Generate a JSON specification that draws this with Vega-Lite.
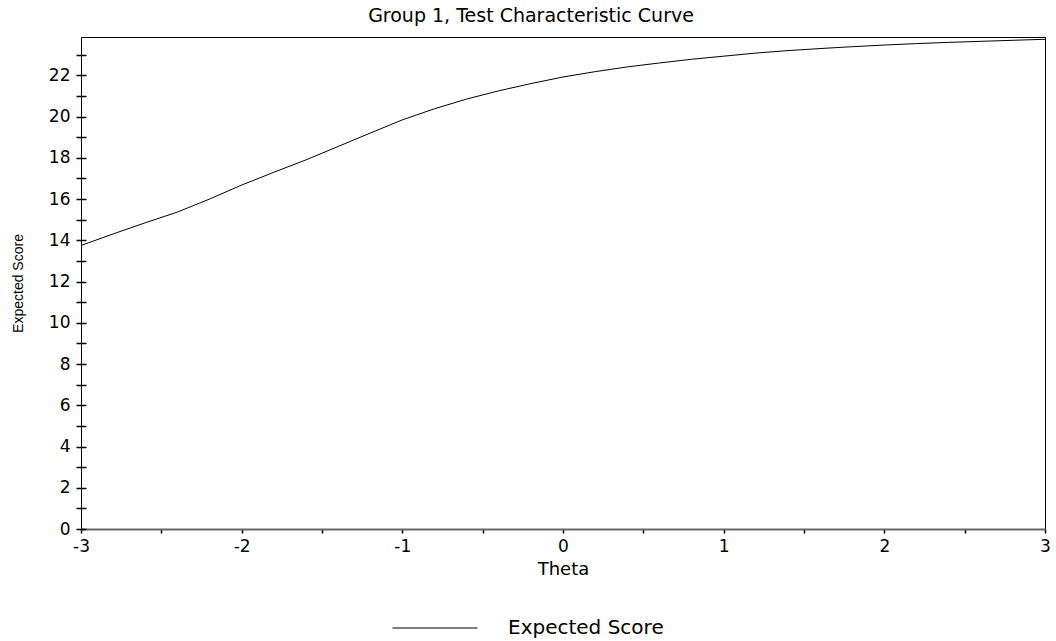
{
  "$schema": "https://vega.github.io/schema/vega-lite/v6.json",
  "autosize": {"type": "none"},
  "width": 964,
  "height": 492,
  "padding": {"left": 81, "top": 37, "right": 11, "bottom": 112},
  "background": "white",
  "title": {
    "text": "Group 1, Test Characteristic Curve",
    "font": "DejaVu Sans",
    "fontSize": 19,
    "fontWeight": "normal",
    "color": "#000",
    "anchor": "middle",
    "frame": "group",
    "dx": -32,
    "offset": 11
  },
  "config": {
    "view": {"stroke": "#000", "strokeWidth": 1},
    "axis": {"grid": false}
  },
  "data": {
    "values": [
      {"theta": -3.0, "score": 13.75},
      {"theta": -2.8, "score": 14.31},
      {"theta": -2.6, "score": 14.85},
      {"theta": -2.4, "score": 15.37},
      {"theta": -2.2, "score": 16.0},
      {"theta": -2.0, "score": 16.68},
      {"theta": -1.8, "score": 17.3},
      {"theta": -1.6, "score": 17.9},
      {"theta": -1.4, "score": 18.55},
      {"theta": -1.2, "score": 19.2},
      {"theta": -1.0, "score": 19.84},
      {"theta": -0.8, "score": 20.38},
      {"theta": -0.6, "score": 20.85},
      {"theta": -0.4, "score": 21.25},
      {"theta": -0.2, "score": 21.6},
      {"theta": 0.0, "score": 21.92},
      {"theta": 0.2, "score": 22.18},
      {"theta": 0.4, "score": 22.41},
      {"theta": 0.6, "score": 22.6},
      {"theta": 0.8, "score": 22.78},
      {"theta": 1.0, "score": 22.93},
      {"theta": 1.2, "score": 23.08},
      {"theta": 1.4, "score": 23.2},
      {"theta": 1.6, "score": 23.3},
      {"theta": 1.8, "score": 23.39},
      {"theta": 2.0, "score": 23.47},
      {"theta": 2.2, "score": 23.54},
      {"theta": 2.4, "score": 23.6},
      {"theta": 2.6, "score": 23.65},
      {"theta": 2.8, "score": 23.7},
      {"theta": 3.0, "score": 23.75}
    ]
  },
  "mark": {"type": "line", "strokeWidth": 1, "interpolate": "linear"},
  "encoding": {
    "x": {
      "field": "theta",
      "type": "quantitative",
      "scale": {"domain": [-3, 3], "nice": false, "zero": false},
      "axis": {
        "title": "Theta",
        "titleFont": "DejaVu Sans",
        "titleFontSize": 18,
        "titleFontWeight": "normal",
        "titleColor": "#000",
        "titlePadding": 6,
        "values": [-3, -2.5, -2, -1.5, -1, -0.5, 0, 0.5, 1, 1.5, 2, 2.5, 3],
        "labelExpr": "datum.value % 1 == 0 ? toString(datum.value) : ''",
        "labelFont": "DejaVu Sans",
        "labelFontSize": 17,
        "labelColor": "#000",
        "labelPadding": 5,
        "labelFlush": false,
        "labelOverlap": false,
        "tickSize": 4,
        "tickWidth": 1.5,
        "tickColor": "#000",
        "domainColor": "#666",
        "domainWidth": 2
      }
    },
    "y": {
      "field": "score",
      "type": "quantitative",
      "scale": {"domain": [0, 23.86], "nice": false},
      "axis": {
        "title": "Expected Score",
        "titleFont": "Liberation Sans",
        "titleFontSize": 14,
        "titleFontWeight": "normal",
        "titleColor": "#000",
        "titlePadding": 23,
        "values": [0, 1, 2, 3, 4, 5, 6, 7, 8, 9, 10, 11, 12, 13, 14, 15, 16, 17, 18, 19, 20, 21, 22, 23],
        "labelExpr": "datum.value % 2 == 0 ? toString(datum.value) : ''",
        "labelFont": "DejaVu Sans",
        "labelFontSize": 17,
        "labelColor": "#000",
        "labelPadding": 6,
        "labelFlush": false,
        "labelOverlap": false,
        "offset": -5,
        "tickSize": 10,
        "tickWidth": 1.5,
        "tickColor": "#000",
        "domain": false
      }
    },
    "color": {
      "datum": "Expected Score",
      "type": "nominal",
      "scale": {"range": ["#000"]},
      "legend": {
        "title": null,
        "orient": "none",
        "legendX": 311,
        "legendY": 548,
        "symbolType": "stroke",
        "symbolSize": 7225,
        "symbolStrokeWidth": 1,
        "labelFont": "DejaVu Sans",
        "labelFontSize": 20,
        "labelColor": "#000",
        "labelOffset": 30
      }
    }
  }
}
